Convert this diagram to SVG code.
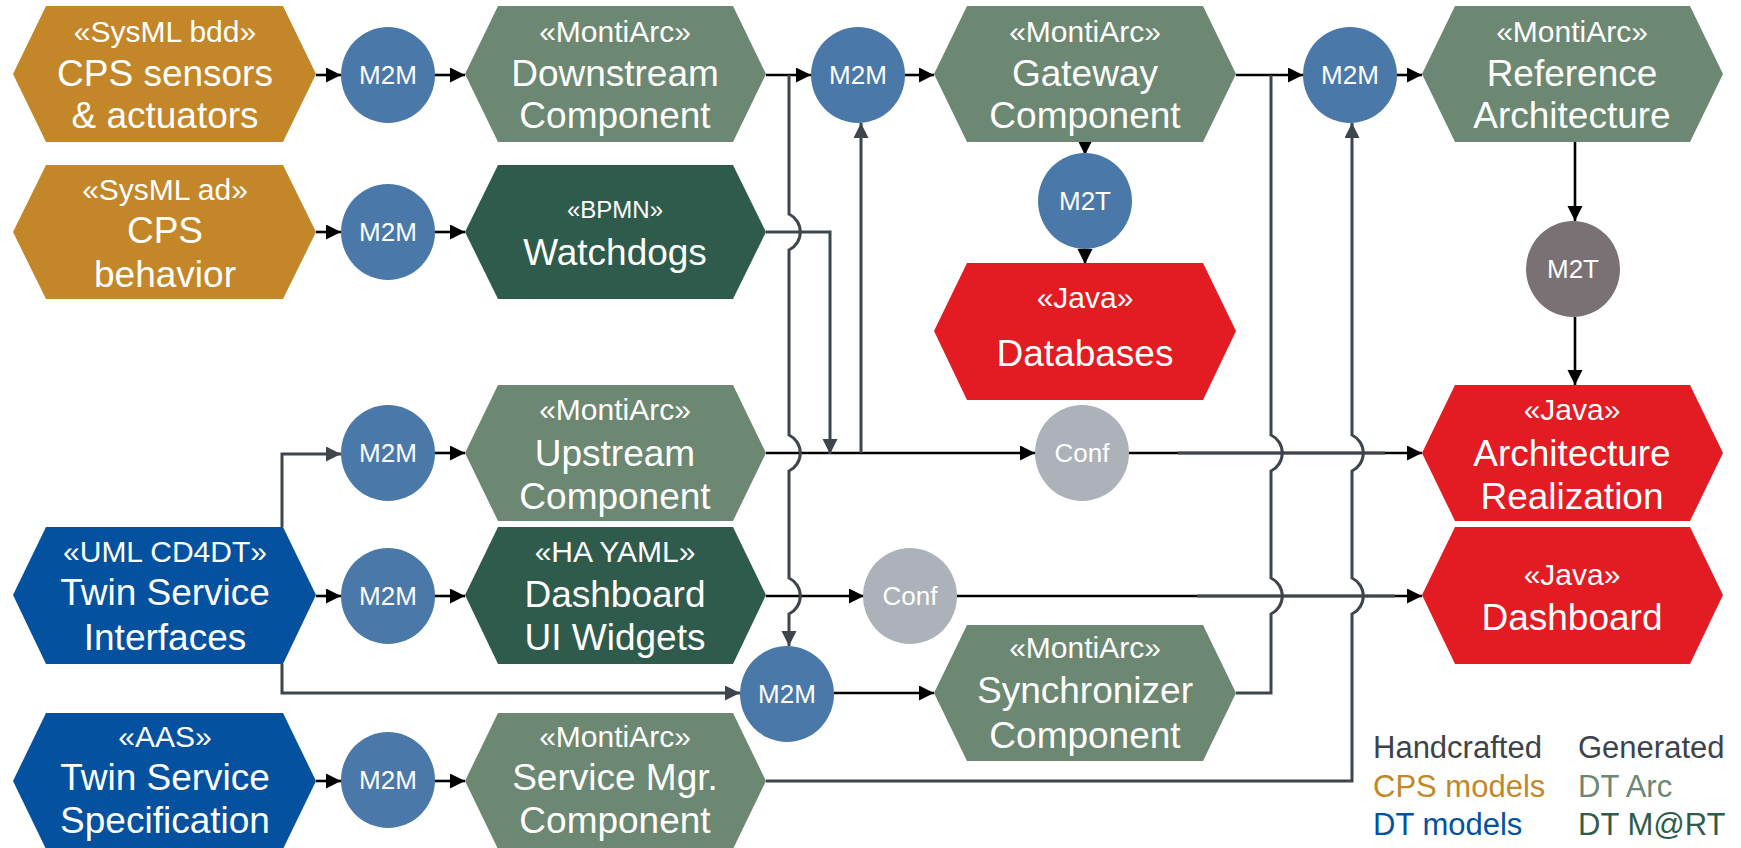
<svg xmlns="http://www.w3.org/2000/svg" width="1741" height="848" viewBox="0 0 1741 848">
  <style>
    text { font-family: "Liberation Sans", Arial, sans-serif; }
    .nt { fill: #ffffff; text-anchor: middle; }
    .st { font-size: 30px; }
    .mt { font-size: 37px; }
    .ct { font-size: 26px; }
    .cps { fill: #c38729; }
    .arc { fill: #6c8872; }
    .mart { fill: #2f5b4c; }
    .dt { fill: #04519f; }
    .java { fill: #e31b23; }
    .m2m { fill: #4a78a8; }
    .m2t { fill: #7a7175; }
    .conf { fill: #adb1b9; }
    .lb { fill: none; stroke: #000000; stroke-width: 2.6; }
    .lg { fill: none; stroke: #3f454d; stroke-width: 3; }
    .leg { font-size: 31px; }
  </style>
  <defs>
    <marker id="ab" markerUnits="userSpaceOnUse" markerWidth="16" markerHeight="16" refX="15" refY="7.5" orient="auto">
      <path d="M0,0 L15,7.5 L0,15 z" fill="#000000"/>
    </marker>
    <marker id="ag" markerUnits="userSpaceOnUse" markerWidth="16" markerHeight="16" refX="15" refY="7.5" orient="auto">
      <path d="M0,0 L15,7.5 L0,15 z" fill="#3f454d"/>
    </marker>
  </defs>
  <rect width="1741" height="848" fill="#ffffff"/>

  <!-- connectors -->
  <g id="connectors">
    <path class="lb" marker-end="url(#ab)" d="M316,75 H341"/>
    <path class="lb" marker-end="url(#ab)" d="M434,75 H465"/>
    <path class="lb" marker-end="url(#ab)" d="M316,232 H341"/>
    <path class="lb" marker-end="url(#ab)" d="M434,232 H465"/>
    <path class="lb" marker-end="url(#ab)" d="M434,453 H465"/>
    <path class="lb" marker-end="url(#ab)" d="M316,596 H341"/>
    <path class="lb" marker-end="url(#ab)" d="M434,596 H465"/>
    <path class="lb" marker-end="url(#ab)" d="M316,781 H341"/>
    <path class="lb" marker-end="url(#ab)" d="M434,781 H465"/>
    <path class="lb" marker-end="url(#ab)" d="M766,75 H811"/>
    <path class="lb" marker-end="url(#ab)" d="M905,75 H934"/>
    <path class="lb" marker-end="url(#ab)" d="M1236,75 H1303"/>
    <path class="lb" marker-end="url(#ab)" d="M1397,75 H1422"/>
    <path class="lb" marker-end="url(#ab)" d="M1085,142 V155"/>
    <path class="lb" marker-end="url(#ab)" d="M1085,249 V264"/>
    <path class="lb" marker-end="url(#ab)" d="M1575,142 V221"/>
    <path class="lb" marker-end="url(#ab)" d="M1575,317 V385"/>
    <path class="lb" marker-end="url(#ab)" d="M766,453 H1035"/>
    <path class="lb" marker-end="url(#ab)" d="M1128,453 H1422"/>
    <path class="lg" d="M1178,453 H1385"/>
    <path class="lb" marker-end="url(#ab)" d="M766,596 H864"/>
    <path class="lb" marker-end="url(#ab)" d="M957,596 H1422"/>
    <path class="lg" d="M1197,596 H1395"/>
    <path class="lb" marker-end="url(#ab)" d="M834,693 H934"/>

    <path class="lg" marker-end="url(#ag)" d="M282,527 V454 H341"/>
    <path class="lg" marker-end="url(#ag)" d="M282,664 V693 H740"/>
    <path class="lg" marker-end="url(#ag)" d="M789,75 V214 A20,20 0 0 1 789,250 V435 A20,20 0 0 1 789,471 V578 A20,20 0 0 1 789,614 V646"/>
    <path class="lg" marker-end="url(#ag)" d="M766,232 H830 V454"/>
    <path class="lg" marker-end="url(#ag)" d="M861,453 V123"/>
    <path class="lg" d="M1236,693 H1271 V614 A20,20 0 0 0 1271,578 V471 A20,20 0 0 0 1271,435 V75"/>
    <path class="lg" marker-end="url(#ag)" d="M766,781 H1352 V614 A20,20 0 0 0 1352,578 V471 A20,20 0 0 0 1352,435 V123"/>
  </g>

  <!-- CPS models -->
  <g id="cps-sensors">
    <polygon class="cps" points="13,74 46,6 283,6 316,74 283,142 46,142"/>
    <text class="nt st" x="165" y="42">«SysML bdd»</text>
    <text class="nt mt" x="165" y="86">CPS sensors</text>
    <text class="nt mt" x="165" y="128">&amp; actuators</text>
  </g>
  <g id="cps-behavior">
    <polygon class="cps" points="13,232 46,165 283,165 316,232 283,299 46,299"/>
    <text class="nt st" x="165" y="200">«SysML ad»</text>
    <text class="nt mt" x="165" y="243">CPS</text>
    <text class="nt mt" x="165" y="287">behavior</text>
  </g>

  <!-- DT models -->
  <g id="twin-service-interfaces">
    <polygon class="dt" points="13,595 46,527 283,527 316,595 283,664 46,664"/>
    <text class="nt st" x="165" y="562">«UML CD4DT»</text>
    <text class="nt mt" x="165" y="605">Twin Service</text>
    <text class="nt mt" x="165" y="650">Interfaces</text>
  </g>
  <g id="twin-service-specification">
    <polygon class="dt" points="13,781 46,713 283,713 316,781 283,849 46,849"/>
    <text class="nt st" x="165" y="747">«AAS»</text>
    <text class="nt mt" x="165" y="790">Twin Service</text>
    <text class="nt mt" x="165" y="833">Specification</text>
  </g>

  <!-- transformations -->
  <g id="m2m-sensors"><ellipse class="m2m" cx="388" cy="75" rx="47" ry="48"/><text class="nt ct" x="388" y="84">M2M</text></g>
  <g id="m2m-behavior"><ellipse class="m2m" cx="388" cy="232" rx="47" ry="48"/><text class="nt ct" x="388" y="241">M2M</text></g>
  <g id="m2m-upstream"><ellipse class="m2m" cx="388" cy="453" rx="47" ry="48"/><text class="nt ct" x="388" y="462">M2M</text></g>
  <g id="m2m-dashboard"><ellipse class="m2m" cx="388" cy="596" rx="47" ry="48"/><text class="nt ct" x="388" y="605">M2M</text></g>
  <g id="m2m-service"><ellipse class="m2m" cx="388" cy="780" rx="47" ry="48"/><text class="nt ct" x="388" y="789">M2M</text></g>
  <g id="m2m-gateway"><ellipse class="m2m" cx="858" cy="75" rx="47" ry="48"/><text class="nt ct" x="858" y="84">M2M</text></g>
  <g id="m2m-reference"><ellipse class="m2m" cx="1350" cy="75" rx="47" ry="48"/><text class="nt ct" x="1350" y="84">M2M</text></g>
  <g id="m2m-synchronizer"><ellipse class="m2m" cx="787" cy="694" rx="47" ry="48"/><text class="nt ct" x="787" y="703">M2M</text></g>
  <g id="m2t-databases"><ellipse class="m2m" cx="1085" cy="201" rx="47" ry="48"/><text class="nt ct" x="1085" y="210">M2T</text></g>
  <g id="m2t-architecture"><ellipse class="m2t" cx="1573" cy="269" rx="47" ry="48"/><text class="nt ct" x="1573" y="278">M2T</text></g>
  <g id="conf-architecture"><ellipse class="conf" cx="1082" cy="453" rx="47" ry="48"/><text class="nt ct" x="1082" y="462">Conf</text></g>
  <g id="conf-dashboard"><ellipse class="conf" cx="910" cy="596" rx="47" ry="48"/><text class="nt ct" x="910" y="605">Conf</text></g>

  <!-- DT Arc / DT M@RT -->
  <g id="downstream">
    <polygon class="arc" points="465,74 498,6 733,6 766,74 733,142 498,142"/>
    <text class="nt st" x="615" y="42">«MontiArc»</text>
    <text class="nt mt" x="615" y="86">Downstream</text>
    <text class="nt mt" x="615" y="128">Component</text>
  </g>
  <g id="watchdogs">
    <polygon class="mart" points="465,232 498,165 733,165 766,232 733,299 498,299"/>
    <text class="nt" x="615" y="218" font-size="24">«BPMN»</text>
    <text class="nt mt" x="615" y="265">Watchdogs</text>
  </g>
  <g id="upstream">
    <polygon class="arc" points="465,453 498,385 733,385 766,453 733,521 498,521"/>
    <text class="nt st" x="615" y="420">«MontiArc»</text>
    <text class="nt mt" x="615" y="466">Upstream</text>
    <text class="nt mt" x="615" y="509">Component</text>
  </g>
  <g id="dashboard-widgets">
    <polygon class="mart" points="465,595 498,527 733,527 766,595 733,664 498,664"/>
    <text class="nt st" x="615" y="562">«HA YAML»</text>
    <text class="nt mt" x="615" y="607">Dashboard</text>
    <text class="nt mt" x="615" y="650">UI Widgets</text>
  </g>
  <g id="service-manager">
    <polygon class="arc" points="465,781 498,713 733,713 766,781 733,849 498,849"/>
    <text class="nt st" x="615" y="747">«MontiArc»</text>
    <text class="nt mt" x="615" y="790">Service Mgr.</text>
    <text class="nt mt" x="615" y="833">Component</text>
  </g>
  <g id="gateway">
    <polygon class="arc" points="934,74 967,6 1203,6 1236,74 1203,142 967,142"/>
    <text class="nt st" x="1085" y="42">«MontiArc»</text>
    <text class="nt mt" x="1085" y="86">Gateway</text>
    <text class="nt mt" x="1085" y="128">Component</text>
  </g>
  <g id="synchronizer">
    <polygon class="arc" points="934,693 967,625 1203,625 1236,693 1203,761 967,761"/>
    <text class="nt st" x="1085" y="658">«MontiArc»</text>
    <text class="nt mt" x="1085" y="703">Synchronizer</text>
    <text class="nt mt" x="1085" y="748">Component</text>
  </g>
  <g id="reference-architecture">
    <polygon class="arc" points="1422,74 1455,6 1690,6 1723,74 1690,142 1455,142"/>
    <text class="nt st" x="1572" y="42">«MontiArc»</text>
    <text class="nt mt" x="1572" y="86">Reference</text>
    <text class="nt mt" x="1572" y="128">Architecture</text>
  </g>

  <!-- Java -->
  <g id="databases">
    <polygon class="java" points="934,331 967,263 1203,263 1236,331 1203,400 967,400"/>
    <text class="nt st" x="1085" y="308">«Java»</text>
    <text class="nt mt" x="1085" y="366">Databases</text>
  </g>
  <g id="architecture-realization">
    <polygon class="java" points="1422,453 1455,385 1690,385 1723,453 1690,521 1455,521"/>
    <text class="nt st" x="1572" y="420">«Java»</text>
    <text class="nt mt" x="1572" y="466">Architecture</text>
    <text class="nt mt" x="1572" y="509">Realization</text>
  </g>
  <g id="dashboard">
    <polygon class="java" points="1422,595 1455,527 1690,527 1723,595 1690,664 1455,664"/>
    <text class="nt st" x="1572" y="585">«Java»</text>
    <text class="nt mt" x="1572" y="630">Dashboard</text>
  </g>

  <!-- legend -->
  <g id="legend" class="leg">
    <text x="1373" y="758" fill="#3d434b">Handcrafted</text>
    <text x="1578" y="758" fill="#3d434b">Generated</text>
    <text x="1373" y="797" fill="#c38729">CPS models</text>
    <text x="1578" y="797" fill="#6c8872">DT Arc</text>
    <text x="1373" y="835" fill="#04519f">DT models</text>
    <text x="1578" y="835" fill="#2f5b4c">DT M@RT</text>
  </g>
</svg>
